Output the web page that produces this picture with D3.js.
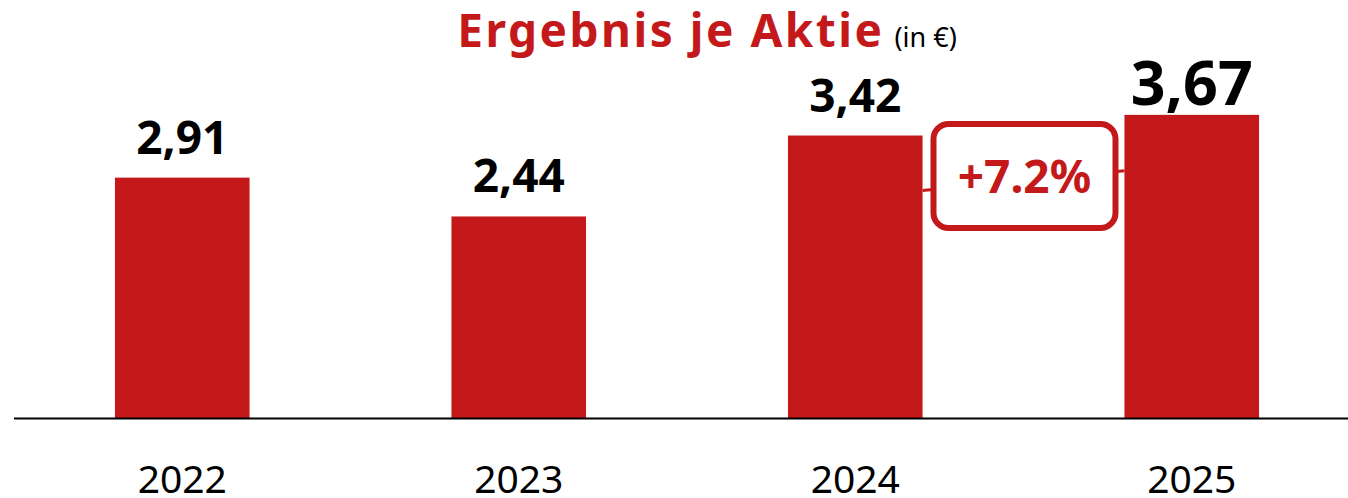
<!DOCTYPE html>
<html>
<head>
<meta charset="utf-8">
<script src="https://cdn.jsdelivr.net/npm/d3@7"></script>
<style>
  html, body { margin: 0; padding: 0; background: #fff; }
  svg { display: block; font-family: "Noto Sans", "Open Sans", sans-serif; }
</style>
</head>
<body>
<div id="chart"></div>
<script>
// Data
const years = ['2022', '2023', '2024', '2025'];
const eps = [2.91, 2.44, 3.42, 3.67];
const valueLabels = ['2,91', '2,44', '3,42', '3,67'];
const growthLabel = '+7.2%';

const RED = '#C4191B';
const width = 1348, height = 498;
const baseY = 418;

const svg = d3.select('#chart').append('svg')
  .attr('width', width)
  .attr('height', height);

const x = d3.scaleBand()
  .domain(years)
  .range([14, 1360])
  .paddingInner(0.6)
  .paddingOuter(0.3);

const y = d3.scaleLinear()
  .domain([0, 4])
  .range([baseY, baseY - 82.6 * 4]);

const data = years.map((yr, i) => ({ year: yr, value: eps[i], label: valueLabels[i] }));
const last = data.length - 1;

// Title
const title = svg.append('text')
  .attr('x', 707)
  .attr('y', 47)
  .attr('text-anchor', 'middle');
title.append('tspan')
  .attr('fill', RED)
  .attr('font-size', 46)
  .attr('font-weight', 700)
  .attr('letter-spacing', 2.5)
  .text('Ergebnis je Aktie');
title.append('tspan')
  .attr('fill', '#000')
  .attr('font-size', 27)
  .attr('dx', 10)
  .text('(in €)');

// Bars
svg.selectAll('rect.bar')
  .data(data)
  .join('rect')
  .attr('class', 'bar')
  .attr('x', d => x(d.year))
  .attr('y', d => y(d.value))
  .attr('width', x.bandwidth())
  .attr('height', d => y(0) - y(d.value))
  .attr('fill', RED);

// Baseline
svg.append('line')
  .attr('x1', 14)
  .attr('x2', width)
  .attr('y1', baseY + 0.5)
  .attr('y2', baseY + 0.5)
  .attr('stroke', '#000')
  .attr('stroke-width', 2);

// Value labels
svg.selectAll('text.value')
  .data(data)
  .join('text')
  .attr('class', 'value')
  .attr('x', d => x(d.year) + x.bandwidth() / 2)
  .attr('y', (d, i) => y(d.value) - (i === last ? 10 : 24))
  .attr('text-anchor', 'middle')
  .attr('font-weight', 700)
  .attr('font-size', (d, i) => i === last ? 61 : 46)
  .attr('fill', '#000')
  .text(d => d.label);

// Year labels
svg.selectAll('text.year')
  .data(data)
  .join('text')
  .attr('class', 'year')
  .attr('x', d => x(d.year) + x.bandwidth() / 2)
  .attr('y', 493)
  .attr('text-anchor', 'middle')
  .attr('font-size', 39)
  .attr('fill', '#000')
  .text(d => d.year);

// Growth callout between the last two bars
const prev = data[last - 1], cur = data[last];
const cx1 = x(prev.year) + x.bandwidth();
const cx2 = x(cur.year);
const cy1 = y(prev.value) + 55;
const cy2 = y(cur.value) + 56;
svg.append('line')
  .attr('x1', cx1).attr('y1', cy1)
  .attr('x2', cx2).attr('y2', cy2)
  .attr('stroke', RED)
  .attr('stroke-width', 3);

const boxW = 182, boxH = 104;
const bx = (cx1 + cx2) / 2 + 1;
const by = 176;
svg.append('rect')
  .attr('x', bx - boxW / 2)
  .attr('y', by - boxH / 2)
  .attr('width', boxW)
  .attr('height', boxH)
  .attr('rx', 15)
  .attr('fill', '#fff')
  .attr('stroke', RED)
  .attr('stroke-width', 6);

svg.append('text')
  .attr('x', bx)
  .attr('y', by + 17)
  .attr('text-anchor', 'middle')
  .attr('font-size', 46)
  .attr('font-weight', 700)
  .attr('fill', RED)
  .text(growthLabel);
</script>
</body>
</html>
